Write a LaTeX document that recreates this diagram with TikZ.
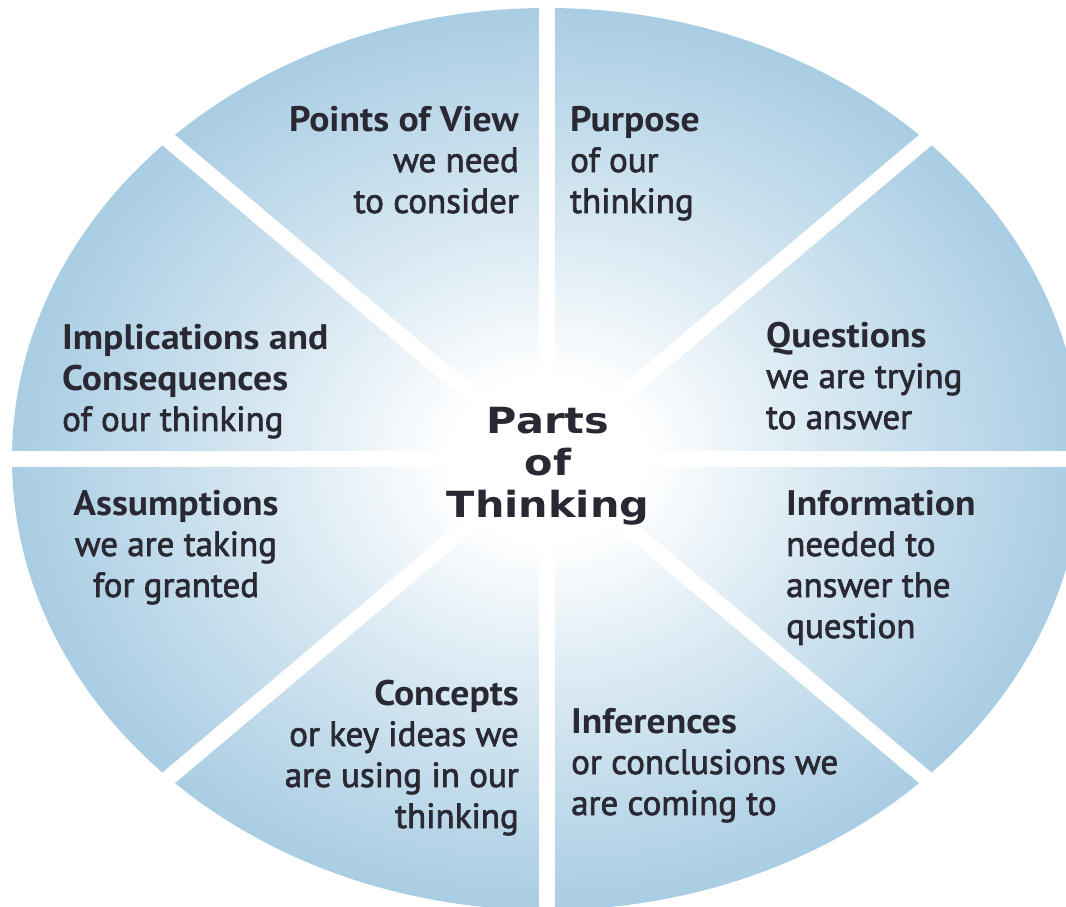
\documentclass[tikz,border=0pt]{standalone}
\usepackage{fontspec}
\usetikzlibrary{calc}
\setmainfont{PT Sans}
\newfontfamily\descfont[FakeBold=2]{PT Sans}
\newfontfamily\headfont[FakeStretch=1.06]{PT Sans Bold}
\newfontfamily\centerfont[FakeStretch=1.15]{DejaVu Sans Bold}
\definecolor{edgeblue}{HTML}{A9CDE3}
\definecolor{txt}{HTML}{2A2933}
\pgfdeclareradialshading{thinkshade}{\pgfpoint{0bp}{0bp}}{%
  color(0bp)=(white); color(4.5bp)=(white); color(13bp)=(edgeblue!45!white);
  color(25bp)=(edgeblue); color(50bp)=(edgeblue)}
\tikzset{
  gap/.style={white, line width=16pt},
  lbl/.style={inner sep=0pt, text=txt, font=\descfont\fontsize{35}{41}\selectfont},
  ctr/.style={inner sep=0pt, text=txt, align=center, font=\centerfont\fontsize{36}{42}\selectfont},
}
\newcommand{\hd}[1]{{\headfont\fontsize{35.5}{41}\selectfont #1}}
\begin{document}
\begin{tikzpicture}[x=1pt,y=-1pt]
\useasboundingbox (0,0) rectangle (1066,907);
\fill[white] (0,0) rectangle (1066,907);
\coordinate (c) at (547,459);
\shade[shading=thinkshade] (c) ellipse [x radius=535pt, y radius=451pt];
% white gaps
\draw[gap] (547,-10) -- (547,920);
\draw[gap] (-10,459) -- (1080,459);
\draw[gap] ($(c)+(-490,-413)$) -- ($(c)+(490,413)$);
\draw[gap] ($(c)+(490,-413)$) -- ($(c)+(-490,413)$);
% labels (anchored at baseline of last line)
\node[lbl, align=right, anchor=base east] (pov) at (519,213)
  {\hd{Points of View}\\we need\\to consider};
\node[lbl, align=left, anchor=base west] (pur) at (570,213)
  {\hd{Purpose}\\of our\\thinking};
\node[lbl, align=left, anchor=base west] (que) at (766,429)
  {\hd{Questions}\\we are trying\\to answer};
\node[lbl, align=left, anchor=base west] (inf) at (786,638)
  {\hd{Information}\\needed to\\answer the\\question};
\node[lbl, align=left, anchor=base west] (con) at (571,815)
  {\hd{Inferences}\\or conclusions we\\are coming to};
\node[lbl, align=right, anchor=base east] (cpt) at (519,828)
  {\hd{Concepts}\\or key ideas we\\are using in our\\thinking};
\node[lbl, align=center, anchor=base] (ass) at (176,597)
  {\hd{Assumptions}\\we are taking\\for granted};
\node[lbl, align=left, anchor=base west] (imp) at (62,431)
  {\hd{Implications and}\\\hd{Consequences}\\of our thinking};
\node[ctr, anchor=base] (title) at (548,517) {Parts\\of\\Thinking};
\end{tikzpicture}
\end{document}
